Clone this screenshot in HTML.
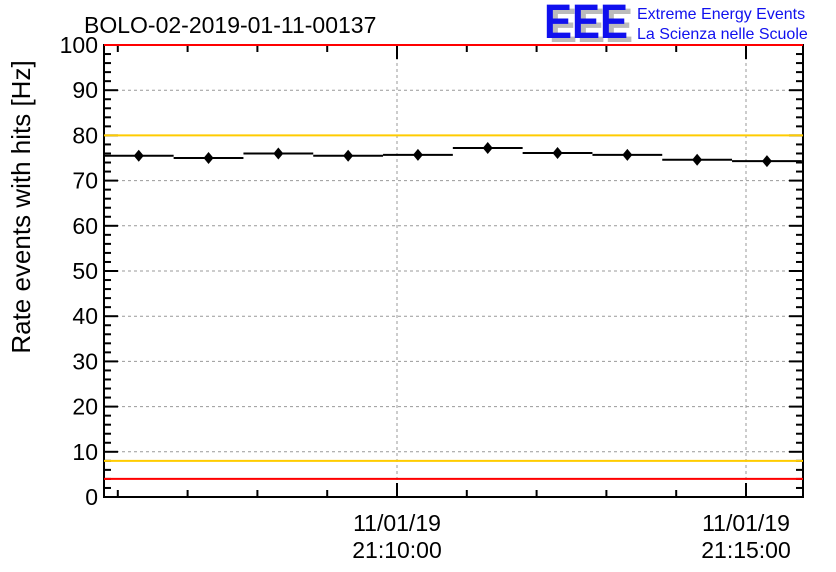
<!DOCTYPE html>
<html><head><meta charset="utf-8"><style>
body{margin:0;background:#fff}
svg{display:block;font-family:"Liberation Sans",sans-serif}
</style></head><body>
<svg id="c" width="836" height="572">
<text x="84" y="33" font-size="23">BOLO-02-2019-01-11-00137</text>
<g>
<text x="549" y="42" font-size="48" font-weight="bold" fill="#bbb" textLength="84" lengthAdjust="spacingAndGlyphs">EEE</text>
<text x="544" y="38" font-size="48" font-weight="bold" fill="#1010ee" textLength="84" lengthAdjust="spacingAndGlyphs">EEE</text>
<text x="637" y="19" font-size="16" fill="#1010ee">Extreme Energy Events</text>
<text x="637" y="39" font-size="16" fill="#1010ee">La Scienza nelle Scuole</text>
</g>
<text transform="translate(30,207) rotate(-90)" text-anchor="middle" font-size="26">Rate events with hits [Hz]</text>
<g id="grid"></g><g id="axes"></g><g id="marks"></g>
</svg>
<script>
const binStarts=[-252,-192,-132,-72,-12,48,108,168,228,288]; // seconds rel. 21:10:00
const binWidth=60;
const rates=[75.5,75.0,76.0,75.5,75.7,77.2,76.1,75.7,74.6,74.3];
const errs=[0.9,0.9,0.9,0.9,0.9,0.9,0.9,0.9,0.9,0.9];
const yTicks=[0,10,20,30,40,50,60,70,80,90,100];
const xMajor=[0,300];
const xLabels=["11/01/19","21:10:00","11/01/19","21:15:00"];
const limits=[{v:100,c:"#ff0000"},{v:80,c:"#ffcc00"},{v:8,c:"#ffcc00"},{v:4,c:"#ff0000"}];
const X0=104,X1=803,Y0=497,Y1=45;
const sx=t=>397+t*349/300;
const sy=v=>Y0-(v/100)*(Y0-Y1);
const NS="http://www.w3.org/2000/svg";
function mk(p,tag,a){const e=document.createElementNS(NS,tag);for(const k in a)e.setAttribute(k,a[k]);p.appendChild(e);return e;}
const grid=document.getElementById('grid'),axes=document.getElementById('axes'),marks=document.getElementById('marks');
yTicks.forEach(v=>{if(v>0&&v<100){const l=mk(grid,'line',{x1:X0,x2:X1,y1:sy(v),y2:sy(v),stroke:'#999','stroke-dasharray':'3,3'});

}
const t=mk(axes,'text',{x:X0-6,y:sy(v)+8,'text-anchor':'end','font-size':'23'});t.textContent=v;

});
xMajor.forEach(s=>{const l=mk(grid,'line',{x1:sx(s),x2:sx(s),y1:Y1,y2:Y0,stroke:'#999','stroke-dasharray':'3,3'});

});
for(let v=0;v<=100;v+=2){const L=v%10===0?14:7;
mk(axes,'line',{x1:X0,x2:X0+L,y1:sy(v),y2:sy(v),stroke:'#000','stroke-width':2});
mk(axes,'line',{x1:X1-L,x2:X1,y1:sy(v),y2:sy(v),stroke:'#000','stroke-width':2});}
for(let s=-300;s<=420;s+=60){const x=sx(s);if(x<X0+2||x>X1-2)continue;const L=(s%300===0)?14:7;
mk(axes,'line',{x1:x,x2:x,y1:Y0,y2:Y0-L,stroke:'#000','stroke-width':2});
mk(axes,'line',{x1:x,x2:x,y1:Y1,y2:Y1+L,stroke:'#000','stroke-width':2});}
xMajor.forEach((s,i)=>{[0,1].forEach(j=>{const t=mk(axes,'text',{x:sx(s),y:531+j*27,'text-anchor':'middle','font-size':'23'});t.textContent=xLabels[i*2+j];

});});
const fr=mk(axes,'rect',{x:X0,y:Y1,width:X1-X0,height:Y0-Y1,fill:'none',stroke:'#000','stroke-width':2});


limits.forEach(o=>{const l=mk(marks,'line',{x1:X0,x2:X1,y1:sy(o.v),y2:sy(o.v),stroke:o.c,'stroke-width':2});

});
rates.forEach((r,i)=>{const xa=sx(binStarts[i]),xb=sx(binStarts[i]+binWidth),xm=(xa+xb)/2,y=sy(r);
const g=mk(marks,'g',{});


mk(g,'line',{x1:Math.max(xa,X0),x2:Math.min(xb,X1),y1:y,y2:y,stroke:'#000','stroke-width':2});
mk(g,'line',{x1:xm,x2:xm,y1:sy(r+errs[i]),y2:sy(r-errs[i]),stroke:'#000','stroke-width':2});
mk(g,'path',{d:`M${xm} ${y-6}L${xm+5} ${y}L${xm} ${y+6}L${xm-5} ${y}Z`,fill:'#000'});});
</script>
</body></html>
